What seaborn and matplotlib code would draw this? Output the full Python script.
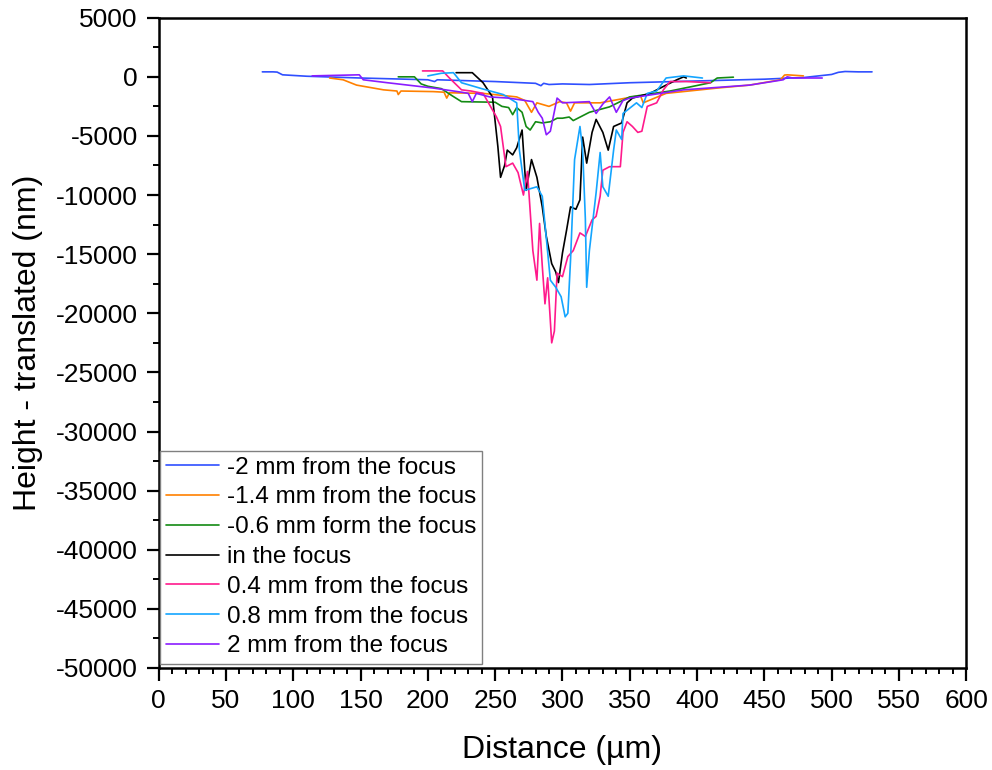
import numpy as np
import pandas as pd
import seaborn as sns
import matplotlib.pyplot as plt

# profile data (x in um, height in nm)
labels = ["-2 mm from the focus", "-1.4 mm from the focus", "-0.6 mm form the focus",
          "in the focus", "0.4 mm from the focus", "0.8 mm from the focus", "2 mm from the focus"]
colors = ["#2F4FFF", "#FF8000", "#138A13", "#000000", "#FF1A8C", "#14A5FF", "#8A1CFF"]

x_m20 = [77, 85, 88, 92, 110, 150, 200, 205, 207, 250, 280, 284, 286, 290, 300, 320, 350, 400, 450, 480, 500, 505, 510, 520, 530]
y_m20 = [420, 420, 400, 170, 50, -100, -250, -400, -250, -400, -550, -750, -550, -650, -600, -650, -500, -350, -200, -50, 200, 380, 450, 420, 420]

x_m14 = [127, 137, 147, 167, 177, 178, 180, 204, 212, 214, 216, 241, 266, 272, 277, 281, 290, 298, 303, 306, 309, 328, 352, 358, 360, 377, 415, 439, 462, 465, 467, 479]
y_m14 = [-100, -250, -700, -1100, -1200, -1500, -1200, -1250, -1300, -1800, -1350, -1400, -1700, -2000, -3000, -2200, -2500, -2100, -2200, -2900, -2200, -2200, -1700, -1600, -2200, -1400, -950, -700, -250, 150, 170, 80]

x_m06 = [178, 190, 195, 200, 210, 218, 225, 250, 255, 260, 263, 266, 270, 273, 276, 280, 285, 291, 296, 300, 305, 308, 320, 335, 350, 380, 410, 415, 427]
y_m06 = [0, 0, -600, -800, -1000, -1600, -2100, -2150, -2500, -2600, -3200, -2600, -3000, -4200, -4500, -3800, -3900, -3800, -3500, -3500, -3400, -3700, -3000, -2540, -1700, -1200, -500, -100, -30]

x_f = [221, 233, 241, 248, 252, 254, 257, 259, 263, 266, 270, 273, 277, 281, 285, 288, 292, 295, 297, 300, 303, 306, 310, 313, 315, 318, 322, 325, 330, 334, 338, 344, 348, 352, 365, 377, 385, 390, 392]
y_f = [350, 350, -500, -1700, -5900, -8500, -7500, -6200, -6600, -6000, -4500, -9600, -7000, -8500, -11000, -13500, -15800, -16500, -17400, -14900, -13000, -11000, -11200, -10400, -5100, -7300, -4700, -3600, -4700, -6200, -4200, -3900, -2200, -1800, -1400, -700, -250, 0, -100]

x_p04 = [196, 211, 216, 225, 232, 241, 251, 254, 258, 263, 267, 271, 274, 278, 281, 283, 285, 287, 289, 292, 294, 296, 300, 304, 308, 313, 317, 322, 325, 328, 330, 335, 343, 345, 348, 352, 356, 359, 363, 370, 375, 380, 392, 410]
y_p04 = [500, 500, -100, -1100, -1200, -1400, -3400, -4200, -7600, -7300, -8100, -10000, -8000, -14700, -17200, -12400, -16000, -19200, -17000, -22500, -21500, -16600, -16900, -15200, -14700, -13200, -13500, -12100, -11800, -10100, -7900, -7600, -7600, -4700, -3800, -4200, -4700, -4600, -2500, -2200, -1100, -400, -400, -500]

x_p08 = [200, 210, 219, 225, 240, 256, 266, 268, 272, 281, 285, 291, 295, 299, 302, 304, 306, 309, 313, 315, 317, 318, 320, 325, 328, 330, 334, 338, 340, 344, 345, 355, 359, 363, 370, 377, 390, 404]
y_p08 = [80, 300, 350, -500, -1000, -1500, -2200, -6200, -9600, -9300, -10100, -17200, -17800, -18600, -20300, -20000, -15500, -7000, -4200, -6200, -12000, -17800, -14700, -9800, -6400, -9300, -10100, -6200, -4500, -5300, -3100, -2200, -2600, -1400, -1200, -100, 80, -100]

x_p20 = [114, 149, 152, 170, 204, 225, 230, 233, 236, 246, 260, 278, 282, 285, 288, 291, 296, 300, 320, 325, 330, 335, 340, 345, 350, 390, 439, 464, 467, 471, 493]
y_p20 = [80, 170, -250, -500, -950, -1300, -1400, -2100, -1400, -1700, -1800, -2100, -3000, -3500, -4900, -4600, -1800, -2200, -2100, -3100, -2300, -1700, -3000, -2000, -1800, -1100, -700, -250, 0, -100, -100]

xs = [x_m20, x_m14, x_m06, x_f, x_p04, x_p08, x_p20]
ys = [y_m20, y_m14, y_m06, y_f, y_p04, y_p08, y_p20]

sns.set_theme(style="ticks")
plt.rcParams['font.family'] = ['Liberation Sans', 'DejaVu Sans']
plt.rcParams['axes.unicode_minus'] = False
plt.rcParams['text.color'] = 'black'
plt.rcParams['axes.labelcolor'] = 'black'
plt.rcParams['xtick.color'] = 'black'
plt.rcParams['ytick.color'] = 'black'

frames = []
for lab, x, y in zip(labels, xs, ys):
    frames.append(pd.DataFrame({"x": x, "y": y, "series": lab}))
df = pd.concat(frames, ignore_index=True)

fig, ax = plt.subplots(figsize=(9.92, 7.70), dpi=100)
fig.subplots_adjust(left=0.160, right=0.974, top=0.977, bottom=0.1325)

sns.lineplot(data=df, x="x", y="y", hue="series", hue_order=labels,
             palette=dict(zip(labels, colors)), estimator=None, sort=False,
             linewidth=1.2, ax=ax)

ax.set_xlim(0, 600)
ax.set_ylim(-50000, 5000)
ax.set_xticks(np.arange(0, 601, 50))
ax.set_yticks(np.arange(-50000, 5001, 5000))
ax.set_xticks(np.arange(0, 601, 10), minor=True)
ax.set_yticks(np.arange(-50000, 5001, 2500), minor=True)
ax.tick_params(axis='both', which='major', labelsize=19, length=9, width=1.6, direction='out', pad=6)
ax.tick_params(axis='both', which='minor', length=4.5, width=1.4, direction='out')
ax.tick_params(top=False, right=False, which='both')
for sp in ax.spines.values():
    sp.set_linewidth(1.8)
    sp.set_color('black')

ax.set_xlabel("Distance (µm)", fontsize=23, labelpad=16)
ax.set_ylabel("Height - translated (nm)", fontsize=23, labelpad=9)

leg = ax.legend(title=None, loc='lower left', bbox_to_anchor=(0.0, 0.005),
                borderaxespad=0.05, fontsize=17.5, handlelength=2.2, handletextpad=0.3,
                labelspacing=0.32, borderpad=0.25, fancybox=False, framealpha=1)
leg.get_frame().set_edgecolor('#808080')
leg.get_frame().set_linewidth(1.0)

fig.savefig("out.png", dpi=100)
